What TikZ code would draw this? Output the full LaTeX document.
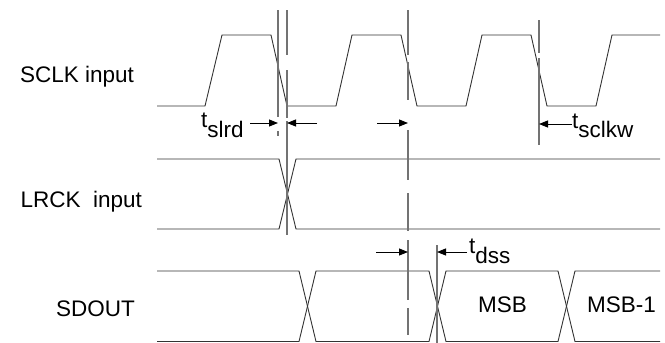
\documentclass[tikz,border=0pt]{standalone}
\usepackage{fontspec}
\setmainfont{Liberation Sans}
\usetikzlibrary{arrows.meta}
\begin{document}
\begin{tikzpicture}[x=1pt,y=-1pt,
  wave/.style={draw=black!80, line width=0.9pt, line join=miter},
  guide/.style={draw=black!55, line width=1.3pt},
  dimarrow/.style={draw=black, line width=0.9pt, -{Triangle[length=9pt,width=7pt]}},
  lbl/.style={font=\fontsize{22.5}{26}\selectfont, anchor=base west, inner sep=0pt},
  tlbl/.style={font=\fontsize{22.5}{26}\selectfont, anchor=base west, inner sep=0pt}]
\useasboundingbox (0,0) rectangle (665,343);

% labels
\node[lbl] (sclk) at (20,82.5) {SCLK input};
\node[lbl] (lrck) at (20.5,207) {LRCK\ \ input};
\node[lbl] (sdout) at (56,316) {SDOUT};
\node[lbl] (msb) at (478,312) {MSB};
\node[lbl] (msb1) at (587,312) {MSB-1};
\node[tlbl] (tslrd) at (201,127) {t\raisebox{-10.5pt}{slrd}};
\node[tlbl] (tsclkw) at (572,128) {t\raisebox{-9.5pt}{sclkw}};
\node[tlbl] (tdss) at (469,253) {t\raisebox{-10pt}{dss}};

% SCLK
\draw[wave] (157,106) -- (205,106) -- (222,35) -- (271,35) -- (287,106)
  -- (336,106) -- (352,35) -- (401,35) -- (417,106)
  -- (466,106) -- (482,35) -- (531,35) -- (547,106)
  -- (596,106) -- (612,35) -- (660,35);

% LRCK
\draw[wave] (157,159) -- (279,159) -- (296,229) -- (660,229);
\draw[wave] (157,229) -- (279,229) -- (296,159) -- (660,159);

% SDOUT
\draw[wave] (157,271) -- (299,271) -- (316,341.5) -- (429,341.5) -- (446,271) -- (558,271) -- (575,341.5) -- (660,341.5);
\draw[wave] (157,341.5) -- (299,341.5) -- (316,271) -- (429,271) -- (446,341.5) -- (558,341.5) -- (575,271) -- (660,271);

% guide lines
\draw[guide] (278,10) -- (278,117) (278,131) -- (278,136);
\draw[guide] (287,10) -- (287,55) (287,70) -- (287,118) (287,121) -- (287,235);
\draw[guide] (408,10) -- (408,55) (408,62) -- (408,100) (408,130) -- (408,180)
  (408,193) -- (408,231) (408,240) -- (408,300) (408,308) -- (408,335);
\draw[guide] (539,20) -- (539,53) (539,58) -- (539,145);
\draw[guide] (437,245) -- (437,343);

% arrows
\coordinate (a1s) at (250,123); \coordinate (a1e) at (278,123);
\coordinate (a2s) at (317,123); \coordinate (a2e) at (287,123);
\coordinate (a3s) at (377,123); \coordinate (a3e) at (408,123);
\coordinate (a4s) at (572,124); \coordinate (a4e) at (539,124);
\coordinate (a5s) at (376,252); \coordinate (a5e) at (408,252);
\coordinate (a6s) at (467,252); \coordinate (a6e) at (437,252);
\draw[dimarrow] (a1s) -- (a1e);
\draw[dimarrow] (a2s) -- (a2e);
\draw[dimarrow] (a3s) -- (a3e);
\draw[dimarrow] (a4s) -- (a4e);
\draw[dimarrow] (a5s) -- (a5e);
\draw[dimarrow] (a6s) -- (a6e);
\end{tikzpicture}
\end{document}
